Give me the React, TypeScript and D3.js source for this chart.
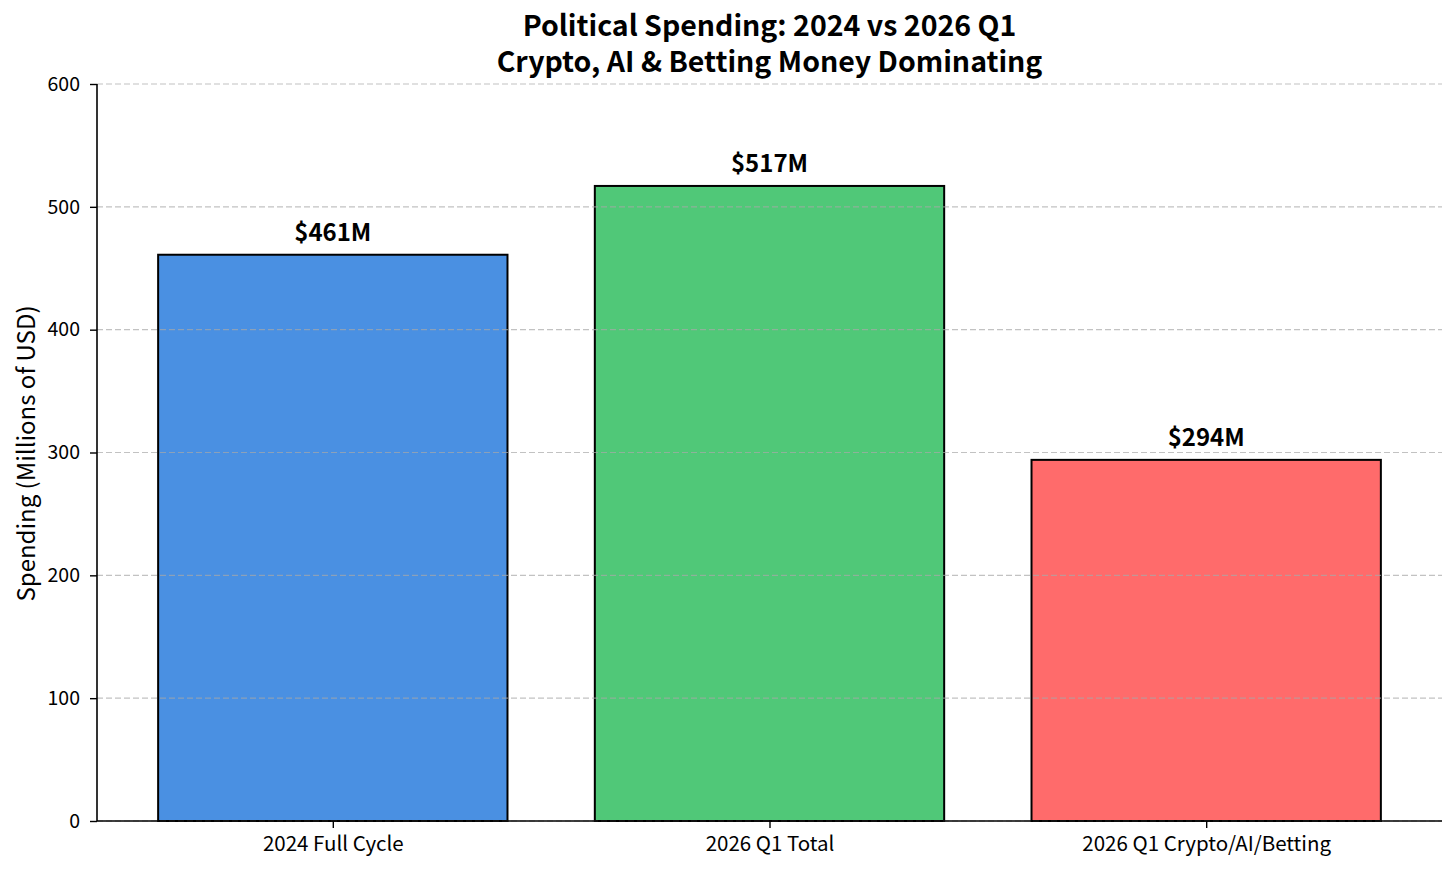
import React, { useEffect, useRef } from 'react';
import * as d3 from 'd3';

const categories = ['2024 Full Cycle', '2026 Q1 Total', '2026 Q1 Crypto/AI/Betting'];
const spending = [461, 517, 294];
const barColors = ['#4A90E2', '#50C878', '#FF6B6B'];
const yTicks = [0, 100, 200, 300, 400, 500, 600];
const titleLines = ['Political Spending: 2024 vs 2026 Q1', 'Crypto, AI & Betting Money Dominating'];

const FONT = '"Noto Sans CJK SC", "Noto Sans", sans-serif';

export default function App() {
  const svgRef = useRef<SVGSVGElement>(null);
  const width = 1456;
  const height = 872;

  useEffect(() => {
    const svg = d3.select(svgRef.current);
    svg.selectAll('*').remove();

    const margin = { top: 84, right: 14, bottom: 51, left: 97 };
    const innerWidth = width - margin.left - margin.right;
    const innerHeight = height - margin.top - margin.bottom;

    // matplotlib-like x: bar width 0.8, 5% margins
    const x = d3.scaleLinear().domain([-0.54, 2.54]).range([0, innerWidth]);
    const y = d3.scaleLinear().domain([0, 600]).range([innerHeight, 0]);

    svg.append('rect').attr('width', width).attr('height', height).attr('fill', '#ffffff');

    const g = svg.append('g').attr('transform', `translate(${margin.left},${margin.top})`);

    // Bars
    g.selectAll('rect.bar')
      .data(spending)
      .join('rect')
      .attr('class', 'bar')
      .attr('x', (_, i) => x(i - 0.4))
      .attr('width', (_, i) => x(i + 0.4) - x(i - 0.4))
      .attr('y', d => y(d))
      .attr('height', d => innerHeight - y(d))
      .attr('fill', (_, i) => barColors[i])
      .attr('stroke', '#000')
      .attr('stroke-width', 2);

    // Grid over bars
    g.append('g')
      .selectAll('line')
      .data(yTicks)
      .join('line')
      .attr('x1', 0)
      .attr('x2', innerWidth)
      .attr('y1', d => y(d))
      .attr('y2', d => y(d))
      .attr('stroke', '#a8a8a8')
      .attr('stroke-opacity', 0.7)
      .attr('stroke-width', 1.2)
      .attr('stroke-dasharray', '6,3');

    // Value labels
    g.selectAll('text.value')
      .data(spending)
      .join('text')
      .attr('class', 'value')
      .attr('x', (_, i) => x(i))
      .attr('y', d => y(d) - 14)
      .attr('text-anchor', 'middle')
      .style('font-family', FONT)
      .style('font-size', '24px')
      .style('font-weight', 'bold')
      .style('fill', '#000')
      .text(d => `$${d}M`);

    // Y axis
    const yAxis = g.append('g')
      .call(d3.axisLeft(y).tickValues(yTicks).tickSize(7).tickPadding(10));
    yAxis.select('.domain').attr('d', `M0,${innerHeight}V0`).attr('stroke', '#000').attr('stroke-width', 1.6);
    yAxis.selectAll('.tick line').attr('stroke', '#000').attr('stroke-width', 1.4);
    yAxis.selectAll('text')
      .style('font-family', FONT)
      .style('font-size', '19.5px')
      .style('fill', '#000');

    // X axis
    const xAxis = g.append('g')
      .attr('transform', `translate(0,${innerHeight})`)
      .call(d3.axisBottom(x).tickValues([0, 1, 2]).tickSize(7).tickPadding(8)
        .tickFormat((d) => categories[+d]));
    xAxis.select('.domain').attr('d', `M0,0H${innerWidth}`).attr('stroke', '#000').attr('stroke-width', 1.6);
    xAxis.selectAll('.tick line').attr('stroke', '#000').attr('stroke-width', 1.4);
    xAxis.selectAll('text')
      .style('font-family', FONT)
      .style('font-size', '20.5px')
      .style('fill', '#000');

    // Y label
    svg.append('text')
      .attr('transform', `translate(35,${margin.top + innerHeight / 2 + 1}) rotate(-90)`)
      .attr('text-anchor', 'middle')
      .style('font-family', FONT)
      .style('font-size', '24px')
      .style('fill', '#000')
      .text('Spending (Millions of USD)');

    // Title, two separate lines
    titleLines.forEach((line, i) => {
      svg.append('text')
        .attr('x', margin.left + innerWidth / 2)
        .attr('y', 36 + i * 36)
        .attr('text-anchor', 'middle')
        .style('font-family', FONT)
        .style('font-size', '28.5px')
        .style('font-weight', 'bold')
        .style('fill', '#000')
        .text(line);
    });
  }, []);

  return (
    <div style={{ margin: -8 }}>
      <svg ref={svgRef} width={width} height={height} style={{ display: 'block' }} />
    </div>
  );
}
